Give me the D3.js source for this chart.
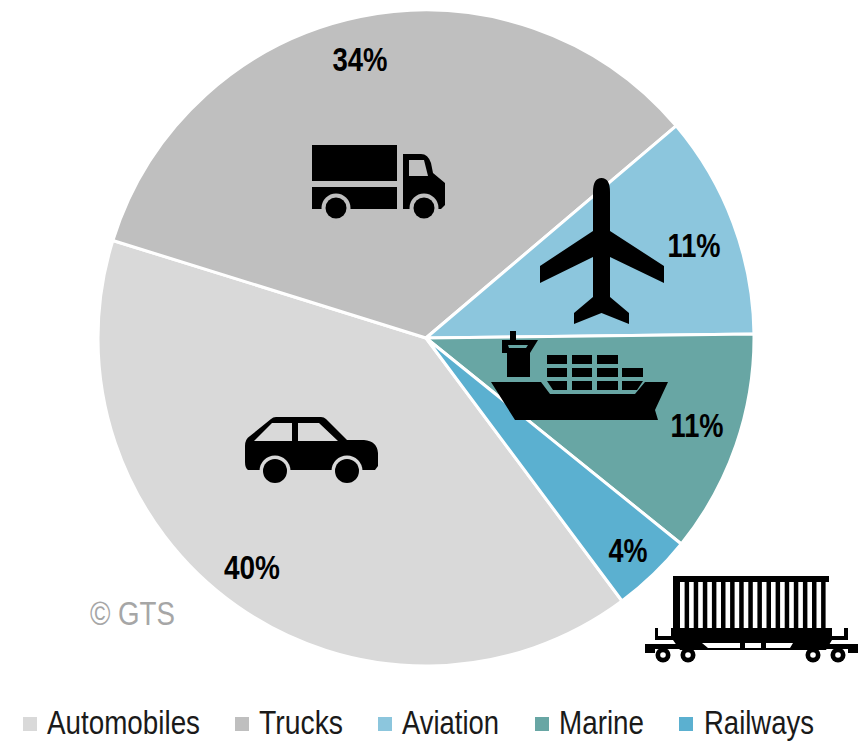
<!DOCTYPE html>
<html>
<head>
<meta charset="utf-8">
<script src="https://cdn.jsdelivr.net/npm/d3@7"></script>
<style>
  html, body { margin: 0; background: #fff; }
  svg { display: block; }
  text { font-family: "Liberation Sans", Arial, sans-serif; }
</style>
</head>
<body>
<svg id="chart" width="864" height="742"></svg>
<script>
// Transport modes and their share of the total, in percent
const categories = ["Automobiles", "Trucks", "Aviation", "Marine", "Railways"];
const shares = [40, 34, 11, 11, 4];
const colors = ["#d9d9d9", "#bfbfbf", "#8cc6dd", "#68a6a4", "#5bb0d0"];
const credit = "© GTS";

const cx = 426, cy = 338, radius = 328;
const startDeg = 143.3;

// Share labels: centre position and rendered width, one entry per category
const labelCentres = [[252, 567, 56], [360, 59, 55], [694, 245, 53], [697, 425, 53], [628, 550, 39]];
// Legend layout: swatch left edge, text left edge, text width
const legendSlots = [[23, 47, 153], [235, 259, 84], [378, 402, 97], [535, 559, 85], [679, 704, 110]];

const svg = d3.select("#chart");

const pie = d3.pie().sort(null).value(d => d)
  .startAngle(startDeg * Math.PI / 180)
  .endAngle((startDeg + 360) * Math.PI / 180);
const arc = d3.arc().innerRadius(0).outerRadius(radius);
const color = d3.scaleOrdinal().domain(categories).range(colors);

svg.append("g")
  .attr("transform", `translate(${cx},${cy})`)
  .selectAll("path")
  .data(pie(shares))
  .join("path")
  .attr("d", arc)
  .attr("fill", (d, i) => color(categories[i]))
  .attr("stroke", "#fff")
  .attr("stroke-width", 3)
  .attr("stroke-linejoin", "round");

// Pictograms for each transport mode
const icons = svg.append("g").attr("fill", "#000");

// Car
const car = icons.append("g");
car.append("path").attr("d",
  "M245,446Q245,439 250,436L271,419Q273,417 276,417H321Q324,417 326,419L347,440H364Q377,441 378,453V466L375,470H245L248,470Q245,468 245,462Z");
car.append("path").attr("fill", "#d9d9d9").attr("d", "M254,441L272,423H292V441Z M298,423H319L338,441H298Z");
[[275, 471], [347, 471]].forEach(([x, y]) => {
  car.append("circle").attr("cx", x).attr("cy", y).attr("r", 15.5).attr("fill", "#d9d9d9");
  car.append("circle").attr("cx", x).attr("cy", y).attr("r", 12);
});

// Truck
const truck = icons.append("g");
truck.append("path").attr("d", "M312,145H397V181H312Z M312,187H397V209H312Z");
truck.append("path").attr("d", "M403,154H421Q428,154 431,163L433,173L445,183V205L441,209H403Z");
truck.append("path").attr("fill", "#bfbfbf").attr("d", "M409,160H424L428,176H409Z");
[[336, 208], [424, 208]].forEach(([x, y]) => {
  truck.append("circle").attr("cx", x).attr("cy", y).attr("r", 14.5).attr("fill", "#bfbfbf");
  truck.append("circle").attr("cx", x).attr("cy", y).attr("r", 10.5);
});

// Aeroplane
icons.append("path").attr("d",
  "M593,192Q593,178 601.5,178Q610,178 610,192V231L664,266V283L610,257V297L629,313V324L601.5,313L574,324V313L593,297V257L540,283V266L593,231Z");

// Container ship
const ship = icons.append("g");
ship.append("path").attr("d", "M491,382H541L550,394H635L645,382H668L655,410L658,420H515Z");
ship.append("path").attr("d", "M510,331H516V340H538L530,353V377H507V353H502V340H510Z");
ship.append("path").attr("fill", "#68a6a4").attr("d", "M508,345H528L526,348H509Z");
ship.append("path").attr("d",
  "M547,355H567V364H547Z M572,355H592V364H572Z M597,355H618V364H597Z" +
  "M547,368H567V377H547Z M572,368H592V377H572Z M597,368H618V377H597Z M622,368H643V377H622Z" +
  "M547,381H567V390H553Z M572,381H592V390H572Z M597,381H618V390H597Z M622,381H643L637,390H622Z");

// Rail wagon carrying a container
const wagon = icons.append("g");
wagon.append("path").attr("d",
  "M673,576H829V628H848V640H832L826,650H680L673,640H655V628H673Z");
// Slots between the container ribs
d3.range(17).forEach(i => {
  wagon.append("rect").attr("x", 680 + i * 9.1).attr("y", 582).attr("width", 4.6).attr("height", 46).attr("fill", "#fff");
});
wagon.append("path").attr("fill", "#fff").attr("d",
  "M658,628H671V636H658Z M832,628H844V636H832Z M702,643H740V648H708Z M745,643H761V648H745Z M766,643H793L790,648H766Z");
wagon.append("path").attr("d", "M645,644H655V653H645Z M848,644H858V653H848Z M655,644H695V649H655Z M808,644H848V649H808Z");
[663, 688, 813, 838].forEach(x => {
  wagon.append("circle").attr("cx", x).attr("cy", 655).attr("r", 7.5);
  wagon.append("circle").attr("cx", x).attr("cy", 655).attr("r", 2.8).attr("fill", "#fff");
});

svg.append("g")
  .selectAll("text")
  .data(shares)
  .join("text")
  .attr("x", (d, i) => labelCentres[i][0] - labelCentres[i][2] / 2)
  .attr("y", (d, i) => labelCentres[i][1] + 12)
  .attr("textLength", (d, i) => labelCentres[i][2])
  .attr("lengthAdjust", "spacingAndGlyphs")
  .attr("font-size", 33)
  .attr("font-weight", 700)
  .attr("fill", "#000")
  .text(d => `${d}%`);

svg.append("text")
  .attr("x", 90).attr("y", 625)
  .attr("textLength", 85).attr("lengthAdjust", "spacingAndGlyphs")
  .attr("font-size", 33).attr("fill", "#a6a6a6")
  .text(credit);

// Legend along the bottom edge
const legend = svg.append("g").selectAll("g").data(categories).join("g");
legend.append("rect")
  .attr("x", (d, i) => legendSlots[i][0]).attr("y", 717)
  .attr("width", 14).attr("height", 14)
  .attr("fill", d => color(d));
legend.append("text")
  .attr("x", (d, i) => legendSlots[i][1]).attr("y", 734)
  .attr("textLength", (d, i) => legendSlots[i][2])
  .attr("lengthAdjust", "spacingAndGlyphs")
  .attr("font-size", 33).attr("fill", "#1a1a1a")
  .text(d => d);
</script>
</body>
</html>
